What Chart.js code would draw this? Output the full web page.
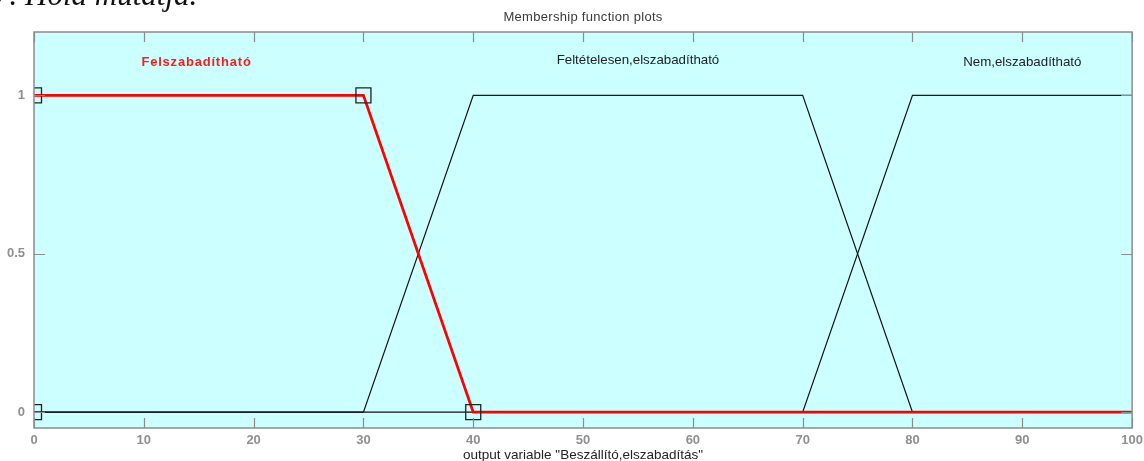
<!DOCTYPE html>
<html>
<head>
<meta charset="utf-8">
<script src="https://cdn.jsdelivr.net/npm/chart.js@4/dist/chart.umd.min.js"></script>
<style>
  html, body { margin: 0; padding: 0; background: #fff; overflow: hidden; }
  #wrap { position: relative; width: 1144px; height: 461px; }
  #cap { position: absolute; left: -6px; top: -23px; font-family: "Liberation Serif", serif; font-style: italic; font-size: 31px; color: #111; white-space: nowrap; }
</style>
</head>
<body>
<div id="wrap">
  <canvas id="c" width="1144" height="461"></canvas>
  <div id="cap">7. Hola mutatja.</div>
</div>
<script>
// ---- data ----
const xTicks = [0, 10, 20, 30, 40, 50, 60, 70, 80, 90, 100];
const yTicks = [0, 0.5, 1];
const mfNames = ["Felszabadítható", "Feltételesen,elszabadítható", "Nem,elszabadítható"];
const mf1X = [0, 30, 40, 100];
const mf1Y = [1, 1, 0, 0];
const mf2X = [0, 30, 40, 70, 80, 100];
const mf2Y = [0, 0, 1, 1, 0, 0];
const mf3X = [0, 70, 80, 100];
const mf3Y = [0, 0, 1, 1];
const markerX = [0, 0, 30, 40];
const markerY = [0, 1, 1, 0];
const labelX = [14.8, 55, 90];
const labelY = [1.105, 1.11, 1.105];
const chartTitle = "Membership function plots";
const xTitle = 'output variable "Beszállító,elszabadítás"';

const pts = (xs, ys) => xs.map((x, i) => ({x: x, y: ys[i]}));
const FONT = '"Liberation Sans", Arial, sans-serif';

const bgPlugin = {
  id: 'bg',
  beforeDraw(chart) {
    const {ctx, chartArea: a} = chart;
    ctx.save();
    ctx.fillStyle = '#ccffff';
    ctx.fillRect(a.left, a.top, a.right - a.left, a.bottom - a.top);
    ctx.restore();
  },
  afterDraw(chart) {
    const {ctx, chartArea: a, scales} = chart;
    ctx.save();
    ctx.strokeStyle = '#8c8c8c';
    ctx.lineWidth = 1.5;
    ctx.strokeRect(a.left, a.top, a.right - a.left, a.bottom - a.top);
    ctx.lineWidth = 1.2;
    ctx.beginPath();
    xTicks.forEach(v => {
      const px = Math.round(scales.x.getPixelForValue(v)) + 0.5;
      ctx.moveTo(px, a.bottom); ctx.lineTo(px, a.bottom - 10);
      ctx.moveTo(px, a.top); ctx.lineTo(px, a.top + 10);
    });
    yTicks.forEach(v => {
      const py = Math.round(scales.y.getPixelForValue(v)) + 0.5;
      ctx.moveTo(a.left, py); ctx.lineTo(a.left + 11, py);
      ctx.moveTo(a.right, py); ctx.lineTo(a.right - 11, py);
    });
    ctx.stroke();
    ctx.textAlign = 'center';
    ctx.textBaseline = 'middle';
    // x tick labels
    ctx.fillStyle = '#8f8f8f';
    ctx.font = 'bold 13px ' + FONT;
    xTicks.forEach(v => {
      ctx.fillText(String(v), scales.x.getPixelForValue(v), a.bottom + 12);
    });
    // title
    ctx.fillStyle = '#3a3a3a';
    ctx.font = '13px ' + FONT;
    ctx.letterSpacing = '0.3px';
    ctx.fillText(chartTitle, (a.left + a.right) / 2, 17);
    // mf labels
    mfNames.forEach((n, i) => {
      ctx.fillStyle = i === 0 ? '#ff1a1a' : '#222';
      ctx.font = (i === 0 ? 'bold 13px ' : '13.3px ') + FONT;
      ctx.letterSpacing = i === 0 ? '0.8px' : '0px';
      ctx.fillText(n, scales.x.getPixelForValue(labelX[i]), scales.y.getPixelForValue(labelY[i]));
    });
    ctx.letterSpacing = '0px';
    ctx.restore();
  }
};

new Chart(document.getElementById('c'), {
  type: 'scatter',
  data: {
    datasets: [
      { data: pts(mf2X, mf2Y), showLine: true, borderColor: '#111', borderWidth: 1.2, pointRadius: 0, tension: 0, order: 3 },
      { data: pts(mf3X, mf3Y), showLine: true, borderColor: '#111', borderWidth: 1.2, pointRadius: 0, tension: 0, order: 2 },
      { data: pts(mf1X, mf1Y), showLine: true, borderColor: '#ff0000', borderWidth: 2.8, pointRadius: 0, tension: 0, order: 1 },
      { data: pts(markerX, markerY), showLine: false, pointStyle: 'rect', pointRadius: 10.6, pointBorderColor: '#222', pointBackgroundColor: 'rgba(0,0,0,0)', pointBorderWidth: 1.3, clip: 0, order: 0 }
    ]
  },
  options: {
    responsive: false,
    animation: false,
    events: [],
    layout: { padding: { top: 32, right: 6, left: 0, bottom: 0 } },
    plugins: { legend: { display: false }, tooltip: { enabled: false } },
    scales: {
      x: {
        type: 'linear', min: 0, max: 100,
        afterBuildTicks: s => { s.ticks = xTicks.map(v => ({value: v})); },
        afterFit: s => { s.height = 33; },
        grid: { display: false, drawTicks: false },
        border: { display: false },
        ticks: { display: false },
        title: { display: true, text: xTitle, color: '#222', font: { size: 13.5, family: FONT }, padding: { top: 0, bottom: -2 } }
      },
      y: {
        type: 'linear', min: -0.05, max: 1.2,
        afterBuildTicks: s => { s.ticks = yTicks.map(v => ({value: v})); },
        afterFit: s => { s.width = 34; s.paddingTop = 0; s.paddingBottom = 0; },
        grid: { display: false, drawTicks: false },
        border: { display: false },
        ticks: { color: '#8f8f8f', font: { size: 13, weight: 'bold', family: FONT }, padding: 9, autoSkip: false, callback: v => String(v) }
      }
    }
  },
  plugins: [bgPlugin]
});
</script>
</body>
</html>
